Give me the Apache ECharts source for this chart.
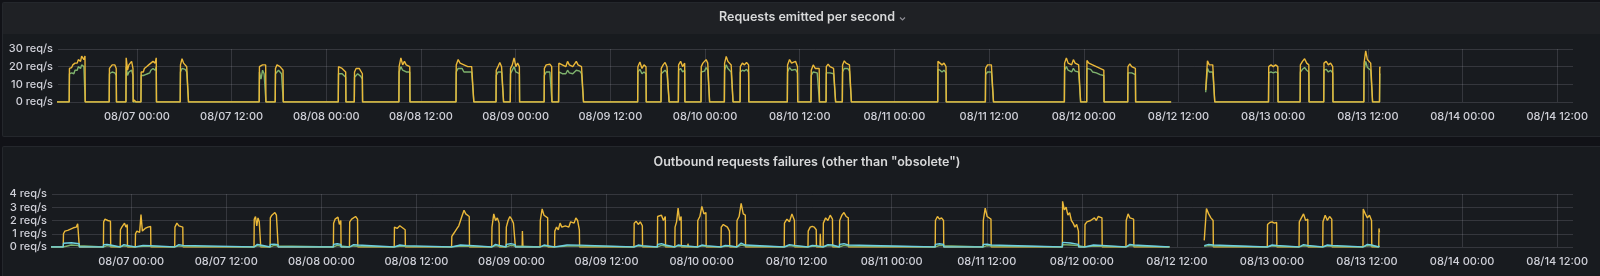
<!DOCTYPE html>
<html>
<head>
<meta charset="utf-8">
<script src="https://cdn.jsdelivr.net/npm/echarts@6/dist/echarts.min.js"></script>
<style>
  html, body { margin: 0; padding: 0; background: #111217; width: 1600px; height: 276px; overflow: hidden; }
  .panel { position: absolute; background: #181b1f; border: 1px solid rgba(204,204,220,0.07); border-radius: 2px; box-sizing: border-box; }
  .hdr { position: absolute; left: 0; top: 0; right: 0; height: 31px; background: #1f2125; }
  #c { position: absolute; left: 0; top: 0; width: 1600px; height: 276px; }
</style>
</head>
<body>
<div class="panel" style="left:2px;top:2px;width:1612px;height:135px;"><div class="hdr"></div></div>
<div class="panel" style="left:2px;top:146px;width:1612px;height:200px;"></div>
<div id="c"></div>
<script>
// ---- time frame (hours relative to 08/07 00:00) ----
const xMinHour = -10;
const xMaxHour = 182;
const gapStartHour = 131.07;      // data gap begins
const resumeIndex = 30;           // pulse that starts right after the gap
const lastIndex = 35;             // last pulse, line ends inside it

// ---- x tick labels ----
const xTickHours = [0, 12, 24, 36, 48, 60, 72, 84, 96, 108, 120, 132, 144, 156, 168, 180];
const xTickLabels = ['08/07 00:00', '08/07 12:00', '08/08 00:00', '08/08 12:00', '08/09 00:00', '08/09 12:00',
  '08/10 00:00', '08/10 12:00', '08/11 00:00', '08/11 12:00', '08/12 00:00', '08/12 12:00',
  '08/13 00:00', '08/13 12:00', '08/14 00:00', '08/14 12:00'];
const yTicksTop = [0, 10, 20, 30];
const yTicksBottom = [0, 1, 2, 3, 4];

// ---- activity windows (start / end, hours from 08/07 00:00) ----
const pulseStart = [-8.58, -3.51, -1.39, 0.51, 5.49, 15.50, 17.53, 25.52, 27.55, 33.2, 40.44, 45.51, 47.32, 51.61, 53.44, 63.46, 66.42, 68.62, 71.49, 74.45, 76.44, 82.43, 85.43, 87.34, 89.40, 101.49, 107.53, 117.54, 120.37, 125.57, 135.42, 143.41, 147.42, 150.41, 155.49, 157.48];
const pulseEnd   = [-6.55, -2.59, -0.47, 2.48, 6.54, 16.35, 18.55, 26.49, 28.60, 34.61, 42.70, 46.47, 48.50, 52.60, 56.60, 64.55, 67.45, 69.45, 72.58, 75.55, 77.55, 83.75, 86.50, 88.55, 90.55, 102.57, 108.56, 119.60, 122.57, 126.57, 136.60, 144.62, 148.55, 151.58, 156.60, 157.60];

// ---- Requests emitted per second ----
const reqYellow = [
  [19,20,19.5,21,20,22,23,22,24,25,23,26,27,24,26],
  [19,20,21,20,21,19],
  [25,18,21,20,23,19],
  [17,18,17,19,18,20,19,21,20,22,21,23,24,22,25],
  [21,24.5,22,23,20,21],
  [20,21,21,20,21],
  [19,21,21.6,20,19,18],
  [20,19,19,18,17],
  [17,19,20,19,18,16],
  [20,25,21,23,21,22,20],
  [21,24,22,23,21,22,20,21,20,19],
  [18,20,22.4,20,21],
  [19,21,25,20,22,20],
  [19,21,20,21.4,20],
  [22,23,21,22,20,23,21,22,20,21,23,21,22,20,21],
  [20,22.6,19,21,20],
  [19,21,22.4,20,21],
  [21,23,20,22],
  [20,22,21,24,22,21],
  [22,25.8,23,24,21,22],
  [20,22,21,22.4,21],
  [21,24,22,21,23,20],
  [18,21,19,20,19],
  [20,21.4,20,21,19,20],
  [21,23.3,22,23,21,22],
  [23,22,21,22,20],
  [19,21,20,21,20],
  [22,24.9,22,23,21,24,22,23,21,22],
  [23.5,22,23,21,22,20,21,19,18,18],
  [20,21.6,20,21,19],
  [6.8,23.3,21,20,21,20],
  [20,21,20,21,20],
  [21,23,24.5,22,21],
  [22,23,21,22,20],
  [22,29,24,23,22,21],
  [20,19]
];
const reqGreen = [
  [16,15.4,16.5,17,16,18,19,18,20,21,19,21,22,20,21],
  [16,16.5,17,16,16.5,15],
  [20,15,17,16,18,15],
  [15,15.5,15,16,15.5,16.5,16,17,16.5,18,17,19,20,18,20],
  [17,19,18,18.5,17,17],
  [17,13,18,16,17],
  [16,17,18,17,16,15],
  [16,15.5,16,15,14],
  [14,15,16,15,14.5,13],
  [17,20,18,19,17,18,17],
  [17,19,18,19,17,18,17,17.5,17,16],
  [15,17,18,17,17],
  [16,17,20,17,18,16],
  [15,17,16,17,16],
  [17,18,16,17,16,18,16.5,17,16,17,18,17,17.5,16,17],
  [17,18.5,16,17,16],
  [16,17,18,16.5,17],
  [18,19,17,18],
  [17,18,17.5,19.5,18,17],
  [18,21,19,19.5,17,18],
  [17,18,17.5,18.5,17],
  [17,19.5,18,17,18.5,16.5],
  [15,17,16,16.5,15.5],
  [16.5,17.5,16.5,17,16,16.5],
  [17,19,18.5,19,17.5,18],
  [18.5,18,17,18,16.5],
  [15.5,17,16,17,16],
  [18,20,18,18.5,17,19,17.5,18.5,17,17.5],
  [19,18,18.5,17,17.5,16.5,17,15.5,15,15],
  [16.5,17.5,16.5,17,15.5],
  [5.5,19,17,16.5,17,16],
  [16.5,17,16.5,17,16.5],
  [17,18.5,19.5,18,17],
  [18,18.5,17,18,16.5],
  [18,23,19.5,18.5,18,17],
  [16,15.5]
];
// short isolated blips: [start, end, value]
const reqBlips = [[-0.38, -0.12, 1.2], [49.3, 49.5, 1.0], [104.05, 104.25, 1.0]];

// ---- Outbound requests failures ----
const failYellow = [
  [1.0,1.2,1.3,1.25,1.4,1.35,1.5,1.45,1.6,1.5,1.75,1.6],
  [1.9,2.1,2.2,2.0,2.15,1.95],
  [1.3,1.5,1.4,1.8,1.5,1.7],
  [1.0,1.2,1.3,1.1,2.44,1.2,1.3,1.4,1.35,1.5,1.45,1.55],
  [1.5,1.8,1.6,1.75,1.5],
  [2.1,2.3,1.6,2.2,1.9,2.0],
  [2.2,2.4,2.3,2.6,2.4,2.3],
  [1.8,2.1,2.0,2.25,1.7,2.0],
  [1.9,2.1,2.0,2.3,2.1],
  [1.5,1.4,1.6,1.45,1.3],
  [0.8,1.0,1.2,1.4,1.6,2.0,2.4,2.77,2.5,2.6,2.3],
  [1.5,2.5,2.0,2.2,1.8],
  [1.5,2.0,2.3,2.1,1.8,1.7],
  [2.0,2.87,2.4,2.5,2.2],
  [1.2,1.5,1.3,1.8,1.5,1.4,1.6,1.7,1.5,1.9,2.0,1.8,2.2,2.0,1.3],
  [1.8,1.94,1.7,1.9,1.6],
  [2.3,2.2,2.4,2.0,2.3],
  [1.5,1.9,2.94,2.0,2.3],
  [2.0,2.3,3.07,2.5,2.6],
  [1.5,1.7,1.6,1.5,1.2],
  [2.0,2.3,3.3,2.5,2.4],
  [1.8,2.1,1.9,2.5,2.0],
  [1.2,1.5,1.56,1.5,1.3],
  [1.8,2.2,2.0,2.4,2.1],
  [2.0,2.4,2.6,2.3,2.2],
  [2.0,2.3,2.1,2.2,2.0],
  [2.0,2.94,2.3,2.4,2.1],
  [3.45,2.8,3.0,2.4,2.6,2.0,1.8,1.5,1.7,1.2],
  [1.7,1.9,1.8,2.0,2.1,2.2,2.0,2.3,2.4,2.2],
  [2.0,2.5,2.2,2.3,2.1],
  [0.5,2.9,2.5,2.2,2.0],
  [1.7,1.85,1.9,1.8,1.85],
  [1.9,2.2,2.5,2.0,2.1],
  [1.9,2.4,2.0,2.3,2.1],
  [2.87,2.5,2.2,2.4,2.0],
  [1.4,1.1]
];
const failGreen = [
  [0.12,0.15,0.1],[0.08,0.1,0.06],[0.06,0.08,0.05],[0.05,0.06,0.05],[0.06,0.08,0.05],[0.08,0.1,0.06],
  [0.1,0.12,0.08],[0.1,0.12,0.08],[0.06,0.08,0.06],[0.05,0.06,0.05],[0.06,0.08,0.06],[0.08,0.1,0.06],
  [0.1,0.12,0.08],[0.06,0.08,0.05],[0.06,0.08,0.07],[0.06,0.08,0.05],[0.1,0.12,0.08],[0.06,0.08,0.06],
  [0.06,0.08,0.05],[0.05,0.06,0.05],[0.08,0.15,0.08],[0.08,0.1,0.06],[0.05,0.06,0.05],[0.08,0.1,0.08],
  [0.1,0.12,0.08],[0.1,0.12,0.1],[0.1,0.11,0.08],[0.18,0.15,0.1],[0.06,0.08,0.06],[0.08,0.1,0.08],
  [0.05,0.1,0.08],[0.06,0.08,0.06],[0.08,0.09,0.06],[0.06,0.08,0.06],[0.08,0.1,0.08],[0.05,0.05]
];
const failCyan = [
  [0.28,0.32,0.25],[0.18,0.2,0.15],[0.15,0.18,0.12],[0.1,0.12,0.1],[0.15,0.18,0.12],[0.15,0.2,0.15],
  [0.2,0.22,0.18],[0.2,0.25,0.2],[0.15,0.18,0.15],[0.12,0.15,0.1],[0.12,0.15,0.12],[0.15,0.2,0.12],
  [0.2,0.25,0.18],[0.12,0.15,0.1],[0.12,0.15,0.14],[0.12,0.15,0.1],[0.2,0.25,0.15],[0.12,0.15,0.12],
  [0.12,0.15,0.1],[0.1,0.12,0.1],[0.15,0.3,0.15],[0.15,0.18,0.12],[0.1,0.12,0.1],[0.15,0.18,0.15],
  [0.2,0.25,0.15],[0.2,0.25,0.2],[0.2,0.22,0.15],[0.35,0.3,0.2],[0.12,0.15,0.12],[0.15,0.2,0.15],
  [0.1,0.2,0.15],[0.12,0.15,0.12],[0.15,0.18,0.12],[0.12,0.15,0.12],[0.15,0.2,0.15],[0.1,0.1]
];
const failBlips = [[49.35, 49.45, 1.2], [70.25, 70.35, 0.25], [86.95, 87.05, 1.0]];

// ---- build ----
function buildLine(values, blips) {
  const items = pulseStart.map((s, i) => ({ s: s, e: pulseEnd[i], v: values[i], i: i }));
  blips.forEach(b => items.push({ s: b[0], e: b[1], v: [b[2], b[2]], i: -1 }));
  items.sort((a, b) => a.s - b.s);
  const pts = [[xMinHour - 0.5, 0]];
  items.forEach(it => {
    if (it.i === resumeIndex) {
      pts.push([gapStartHour, 0]);
      pts.push([gapStartHour + 0.1, null]);
    } else {
      pts.push([it.s, 0]);
    }
    const n = it.v.length;
    const a = it.s + 0.03, b = it.e - 0.03;
    it.v.forEach((v, k) => pts.push([n === 1 ? a : a + (b - a) * k / (n - 1), v]));
    if (it.i !== lastIndex) pts.push([it.e, 0]);
  });
  return pts;
}

const TXT = '#d0d1d9';
const GRID = 'rgba(204,204,220,0.16)';
const FONT = 'Inter';

function mkX(gi) {
  return {
    type: 'value', gridIndex: gi,
    min: xMinHour, max: xMaxHour,
    axisLine: { show: false },
    axisTick: { show: false, customValues: xTickHours },
    splitLine: { show: true, lineStyle: { color: GRID, width: 1 } },
    axisLabel: {
      color: TXT, fontSize: 11, fontWeight: 500, fontFamily: FONT, margin: 9,
      customValues: xTickHours,
      formatter: v => xTickLabels[xTickHours.indexOf(Math.round(v))] || ''
    }
  };
}
function mkY(gi, ticks) {
  return {
    type: 'value', gridIndex: gi,
    min: ticks[0], max: ticks[ticks.length - 1], interval: ticks[1] - ticks[0],
    axisLine: { show: false }, axisTick: { show: false },
    splitLine: { show: true, lineStyle: { color: GRID, width: 1 } },
    axisLabel: { color: TXT, fontSize: 11, fontWeight: 500, fontFamily: FONT, margin: 5, formatter: '{value} req/s' }
  };
}
function mkS(name, data, color, xi) {
  return {
    name: name, type: 'line', xAxisIndex: xi, yAxisIndex: xi, data: data,
    showSymbol: false, symbol: 'none', connectNulls: false,
    lineStyle: { color: color, width: 1.4 }, itemStyle: { color: color }
  };
}

const chart = echarts.init(document.getElementById('c'));
chart.setOption({
  backgroundColor: 'transparent',
  animation: false,
  title: [
    { text: 'Requests emitted per second', left: 807, top: 11, padding: 0, textAlign: 'center',
      textStyle: { color: '#d8d9da', fontSize: 12.5, fontWeight: 600, fontFamily: FONT } },
    { text: 'Outbound requests failures (other than "obsolete")', left: 807, top: 156, padding: 0, textAlign: 'center',
      textStyle: { color: '#d8d9da', fontSize: 12.5, fontWeight: 600, fontFamily: FONT } }
  ],
  graphic: [
    { type: 'polyline', shape: { points: [[900, 17.5], [902.5, 20], [905, 17.5]] },
      style: { stroke: '#8e8e95', lineWidth: 1.2, fill: null } }
  ],
  grid: [
    { left: 58, top: 49, width: 1515, height: 53 },
    { left: 52, top: 194, width: 1521, height: 53 }
  ],
  xAxis: [mkX(0), mkX(1)],
  yAxis: [mkY(0, yTicksTop), mkY(1, yTicksBottom)],
  series: [
    mkS('green', buildLine(reqGreen, []), '#7EB26D', 0),
    mkS('yellow', buildLine(reqYellow, reqBlips), '#EAB839', 0),
    mkS('failures A', buildLine(failYellow, failBlips), '#EAB839', 1),
    mkS('failures B', buildLine(failGreen, []), '#7EB26D', 1),
    mkS('failures C', buildLine(failCyan, []), '#6ED0E0', 1)
  ]
});
</script>
</body>
</html>
